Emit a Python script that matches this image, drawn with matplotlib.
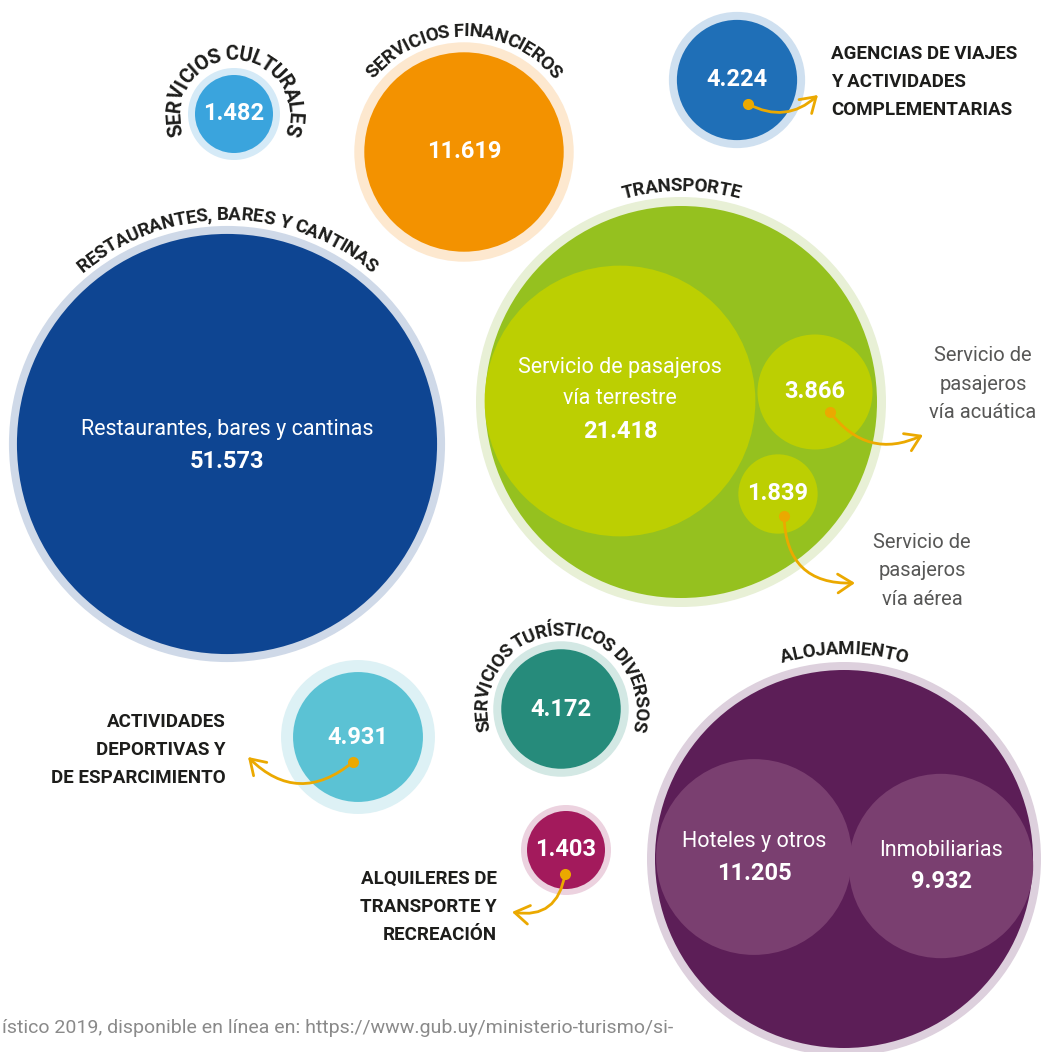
import textwrap
import numpy as np
import matplotlib
matplotlib.use("Agg")
import matplotlib.pyplot as plt
from matplotlib.patches import Circle, FancyArrowPatch
from matplotlib.font_manager import FontProperties
from matplotlib.textpath import text_to_path

W, H, DPI = 1044, 1052, 100

# puestos de trabajo por actividad turística
sectors = ["SERVICIOS CULTURALES", "SERVICIOS FINANCIEROS", "AGENCIAS DE VIAJES",
           "RESTAURANTES, BARES Y CANTINAS", "ACTIVIDADES DEPORTIVAS",
           "SERVICIOS TURÍSTICOS DIVERSOS", "ALQUILERES DE TRANSPORTE"]
values = [1482, 11619, 4224, 51573, 4931, 4172, 1403]

transport_parts = ["Servicio de pasajeros vía terrestre",
                   "Servicio de pasajeros vía acuática",
                   "Servicio de pasajeros vía aérea"]
transport_values = [21418, 3866, 1839]

lodging_parts = ["Hoteles y otros", "Inmobiliarias"]
lodging_values = [11205, 9932]

# layout (pixels, y down)
centers = [(234, 114), (464, 152), (737, 80), (227, 444), (358, 737), (561, 709), (566, 850)]
colors = ["#3aa4dd", "#f39200", "#1f6fb7", "#0e4592", "#5bc2d4", "#268b7b", "#a31a5c"]
halos = ["#d5eaf7", "#fde8cf", "#cfe0f0", "#cfd9e8", "#ddf1f5", "#d3e8e4", "#ecd2df"]
halo_pad = [7, 10, 8, 8, 12, 8, 6]

transport_center, transport_r = (681, 402), 196
transport_sub = [(620, 401), (815, 392), (778, 494)]
lodging_center, lodging_r = (844, 859), 189
lodging_sub = [(754, 857), (941, 866)]

K, RMIN = 0.925, 39
DARK = "#1d1d1b"
GOLD = "#eba900"
FONT = "Roboto"


def radius(v):
    return max(K * np.sqrt(v), RMIN)


def fmt(v):
    return f"{v:,}".replace(",", ".")


def bubble(ax, c, r, color, halo=None, pad=8):
    if halo:
        ax.add_patch(Circle(c, r + pad, fc=halo, ec="none"))
    ax.add_patch(Circle(c, r, fc=color, ec="none"))


def arc_text(ax, text, c, r_base, size=13.5, track=0.0, color=DARK):
    fp = FontProperties(family=FONT, weight="bold", size=size)
    px = DPI / 72
    cum = [0.0] + [text_to_path.get_text_width_height_descent(text[:i], fp, ismath=False)[0] * px
                   for i in range(1, len(text) + 1)]
    n = len(text)
    total = cum[-1] + track * (n - 1)
    r_mid = r_base + size * px * 0.36
    for i, ch in enumerate(text):
        s = (cum[i] + cum[i + 1]) / 2 + track * i - total / 2
        th = np.pi / 2 - s / r_mid
        x = c[0] + r_base * np.cos(th)
        y = c[1] - r_base * np.sin(th)
        ax.text(x, y, ch, fontproperties=fp, color=color, ha="center", va="baseline",
                rotation=np.degrees(th) - 90, rotation_mode="anchor")


def pointer(ax, start, end, rad):
    ax.add_patch(FancyArrowPatch(start, end, connectionstyle=f"arc3,rad={rad}",
                                 arrowstyle="->,head_length=0.7,head_width=0.45",
                                 mutation_scale=15, color=GOLD, lw=2, shrinkA=0, shrinkB=0,
                                 zorder=5))
    ax.plot(*start, "o", ms=8, color=GOLD, mec="none", zorder=6)


fig = plt.figure(figsize=(W / DPI, H / DPI), dpi=DPI)
ax = fig.add_axes([0, 0, 1, 1])
ax.set_xlim(0, W)
ax.set_ylim(H, 0)
ax.set_aspect("equal")
ax.axis("off")

num_kw = dict(color="white", fontsize=17, fontweight="bold", family=FONT, ha="center", va="center")
lbl_kw = dict(color="white", fontsize=15.5, fontweight="normal", family=FONT, ha="center", va="center")

# single bubbles
for i, (name, v) in enumerate(zip(sectors, values)):
    r = radius(v)
    bubble(ax, centers[i], r, colors[i], halos[i], halo_pad[i])

for i in (0, 1, 2, 4, 5, 6):
    ax.text(centers[i][0], centers[i][1], fmt(values[i]), **num_kw)
ax.text(centers[3][0], centers[3][1] - 14, "Restaurantes, bares y cantinas", **lbl_kw)
ax.text(centers[3][0], centers[3][1] + 18, fmt(values[3]), **num_kw)

# transporte, con sus tres servicios
bubble(ax, transport_center, transport_r, "#95c11f", "#e8f0d6", 9)
for c, v in zip(transport_sub, transport_values):
    ax.add_patch(Circle(c, radius(v), fc="#bccf02", ec="none"))
tc = transport_sub[0]
ax.text(tc[0], tc[1] - 18, textwrap.fill(transport_parts[0], 22), linespacing=1.6, **lbl_kw)
ax.text(tc[0], tc[1] + 31, fmt(transport_values[0]), **num_kw)
ax.text(*transport_sub[1], fmt(transport_values[1]), **num_kw)
ax.text(*transport_sub[2], fmt(transport_values[2]), **num_kw)

# alojamiento
bubble(ax, lodging_center, lodging_r, "#5c1e57", "#ddd0dd", 8)
for c, v, name in zip(lodging_sub, lodging_values, lodging_parts):
    ax.add_patch(Circle(c, radius(v), fc="#7a3f70", ec="none"))
    ax.text(c[0], c[1] - 16, name, **lbl_kw)
    ax.text(c[0], c[1] + 16, fmt(v), **num_kw)

# curved titles
arc_text(ax, "SERVICIOS CULTURALES", centers[0], radius(values[0]) + halo_pad[0] + 8, size=14.5, track=0.4)
arc_text(ax, "SERVICIOS FINANCIEROS", centers[1], radius(values[1]) + halo_pad[1] + 6)
arc_text(ax, "RESTAURANTES, BARES Y CANTINAS", centers[3], radius(values[3]) + halo_pad[3] + 6)
arc_text(ax, "SERVICIOS TURÍSTICOS DIVERSOS", centers[5], radius(values[5]) + halo_pad[5] + 6)
arc_text(ax, "TRANSPORTE", transport_center, transport_r + 9 + 6)
arc_text(ax, "ALOJAMIENTO", lodging_center, lodging_r + 8 + 8)

# outside labels
side_kw = dict(color=DARK, fontsize=13.5, fontweight="bold", family=FONT, linespacing=1.72)
ax.text(831, 82, "AGENCIAS DE VIAJES\nY ACTIVIDADES\nCOMPLEMENTARIAS", ha="left", va="center", **side_kw)
ax.text(226, 750, "ACTIVIDADES\nDEPORTIVAS Y\nDE ESPARCIMIENTO", ha="right", va="center", **side_kw)
ax.text(497, 907, "ALQUILERES DE\nTRANSPORTE Y\nRECREACIÓN", ha="right", va="center", **side_kw)

grey_kw = dict(color="#575756", fontsize=14.5, family=FONT, ha="center", va="center", linespacing=1.65)
ax.text(983, 384, textwrap.fill(transport_parts[1], 12), **grey_kw)
ax.text(922, 571, textwrap.fill(transport_parts[2], 12), **grey_kw)

pointer(ax, (748, 104), (818, 95), 0.35)
pointer(ax, (830, 412), (923, 435), 0.4)
pointer(ax, (784, 516), (855, 583), 0.5)
pointer(ax, (353, 762), (248, 757), -0.45)
pointer(ax, (565, 874), (512, 912), -0.5)

ax.text(2, 1033, "ístico 2019, disponible en línea en: https://www.gub.uy/ministerio-turismo/si-",
        color="#8a8a8a", fontsize=14, family=FONT, ha="left", va="baseline")

fig.savefig("out.png", dpi=DPI, facecolor="white")
